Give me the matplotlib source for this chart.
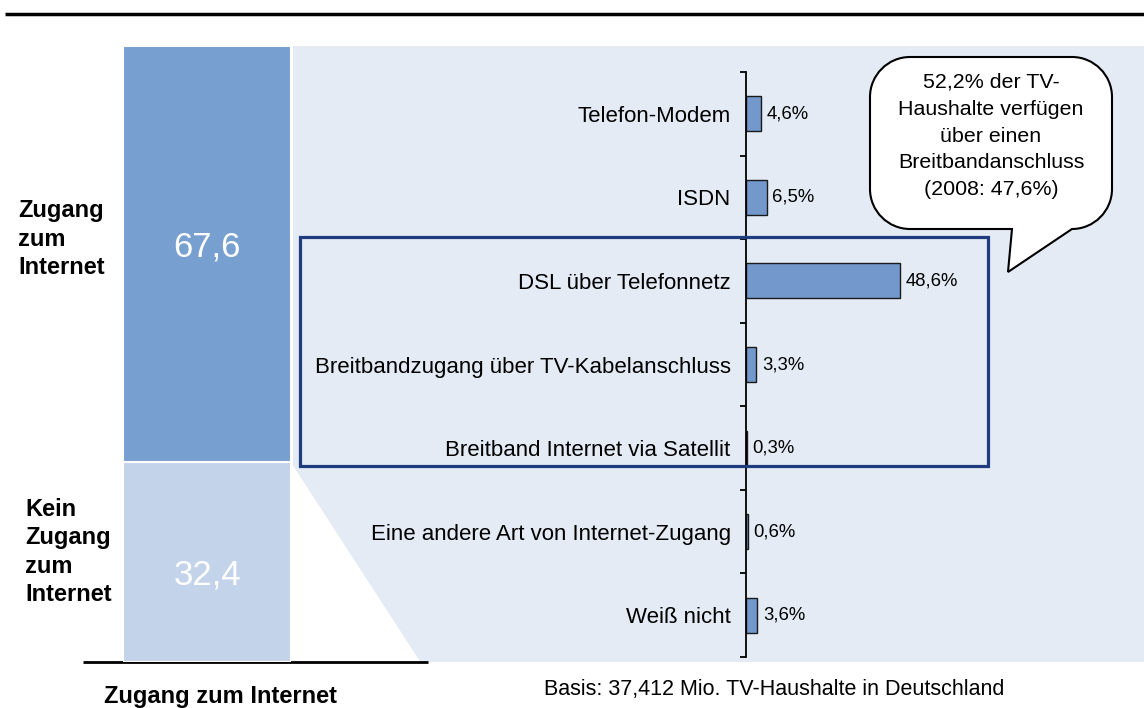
import matplotlib
matplotlib.use("Agg")
import matplotlib.pyplot as plt
from matplotlib.patches import Rectangle, Polygon, PathPatch
from matplotlib.path import Path

plt.rcParams['font.family'] = ['Liberation Sans', 'DejaVu Sans']

# ---- data ----
access_labels = ["Zugang\nzum\nInternet", "Kein\nZugang\nzum\nInternet"]
access_values = [67.6, 32.4]
access_value_text = ["67,6", "32,4"]

categories = ["Telefon-Modem", "ISDN", "DSL über Telefonnetz",
              "Breitbandzugang über TV-Kabelanschluss",
              "Breitband Internet via Satellit",
              "Eine andere Art von Internet-Zugang", "Weiß nicht"]
shares = [4.6, 6.5, 48.6, 3.3, 0.3, 0.6, 3.6]
share_labels = ["4,6%", "6,5%", "48,6%", "3,3%", "0,3%", "0,6%", "3,6%"]

callout_text = "52,2% der TV-\nHaushalte verfügen\nüber einen\nBreitbandanschluss\n(2008: 47,6%)"
bottom_left_text = "Zugang zum Internet"
basis_text = "Basis: 37,412 Mio. TV-Haushalte in Deutschland"

# ---- colours ----
dark_blue = "#779FCF"
light_blue = "#C3D3EA"
panel_bg = "#E4EBF5"
bar_color = "#7399CC"
box_color = "#1F3D7C"

W, H = 1144, 708
fig = plt.figure(figsize=(W / 100, H / 100), dpi=100)

def fig_rect(x0, y0, x1, y1):
    return [x0 / W, (H - y1) / H, (x1 - x0) / W, (y1 - y0) / H]

# background overlay (pixel coordinates)
ax0 = fig.add_axes([0, 0, 1, 1], zorder=0)
ax0.set_xlim(0, W)
ax0.set_ylim(H, 0)
ax0.axis("off")

ax0.plot([5, W], [14, 14], color="black", lw=2.5, solid_capstyle="butt")
ax0.add_patch(Rectangle((293, 46), W - 293, 662 - 46, facecolor=panel_bg, edgecolor="none"))

# left stacked bar geometry
LX0, LX1, LY0, LY1 = 123, 291, 46, 662
boundary_y = LY1 - access_values[1] / 100 * (LY1 - LY0)
ax0.add_patch(Polygon([(292, boundary_y + 2), (292, 663), (421, 663)],
                      closed=True, facecolor="white", edgecolor="none"))
ax0.plot([83, 428], [662, 662], color="black", lw=2, solid_capstyle="butt")

# ---- left stacked bar ----
axL = fig.add_axes(fig_rect(LX0, LY0, LX1, LY1), zorder=1)
axL.set_xlim(-0.5, 0.5)
axL.set_ylim(0, 100)
axL.axis("off")
axL.bar([0], [access_values[1]], width=1.0, color=light_blue,
        edgecolor="white", linewidth=1.5)
axL.bar([0], [access_values[0]], bottom=[access_values[1]], width=1.0,
        color=dark_blue, edgecolor="white", linewidth=1.5)
axL.text(0.5, 0.674, access_value_text[0], transform=axL.transAxes,
         ha="center", va="center", color="white", fontsize=25)
axL.text(0.5, 0.141, access_value_text[1], transform=axL.transAxes,
         ha="center", va="center", color="white", fontsize=25)

# ---- horizontal bars ----
axB = fig.add_axes(fig_rect(746, 72, 1144, 657), zorder=2)
axB.patch.set_alpha(0)
n = len(categories)
ypos = list(range(n))
axB.barh(ypos, shares, height=0.42, color=bar_color, edgecolor="#1a1a1a", linewidth=1.0)
axB.set_xlim(0, 125.5)
axB.set_ylim(n - 0.5, -0.5)
for s in ["top", "right", "bottom"]:
    axB.spines[s].set_visible(False)
axB.spines["left"].set_linewidth(1.3)
axB.set_xticks([])
axB.set_yticks(ypos)
axB.set_yticklabels(categories, fontsize=16)
axB.tick_params(axis="y", which="major", length=0, pad=11)
axB.set_yticks([i - 0.5 for i in range(n + 1)], minor=True)
axB.tick_params(axis="y", which="minor", length=4.5, width=1.3, direction="out")
for y, v, lab in zip(ypos, shares, share_labels):
    axB.annotate(lab, xy=(v, y), xytext=(4, 0), textcoords="offset points",
                 ha="left", va="center", fontsize=13.3)

# ---- top overlay: box, callout, texts ----
axT = fig.add_axes([0, 0, 1, 1], zorder=3)
axT.patch.set_alpha(0)
axT.set_xlim(0, W)
axT.set_ylim(H, 0)
axT.axis("off")

axT.add_patch(Rectangle((300, 237), 988 - 300, 466 - 237, facecolor="none",
                        edgecolor=box_color, linewidth=2.3))

# speech bubble
bx0, bx1, by0, by1, r = 870, 1112, 57, 229, 40
k = 0.55
verts = [
    (bx0 + r, by0),
    (bx1 - r, by0),
    (bx1 - r + k * r, by0), (bx1, by0 + r - k * r), (bx1, by0 + r),
    (bx1, by1 - r),
    (bx1, by1 - r + k * r), (bx1 - r + k * r, by1), (bx1 - r, by1),
    (1072, by1),
    (1008, 272),
    (1012, by1),
    (bx0 + r, by1),
    (bx0 + r - k * r, by1), (bx0, by1 - r + k * r), (bx0, by1 - r),
    (bx0, by0 + r),
    (bx0, by0 + r - k * r), (bx0 + r - k * r, by0), (bx0 + r, by0),
    (bx0 + r, by0),
]
codes = [Path.MOVETO, Path.LINETO,
         Path.CURVE4, Path.CURVE4, Path.CURVE4,
         Path.LINETO,
         Path.CURVE4, Path.CURVE4, Path.CURVE4,
         Path.LINETO, Path.LINETO, Path.LINETO, Path.LINETO,
         Path.CURVE4, Path.CURVE4, Path.CURVE4,
         Path.LINETO,
         Path.CURVE4, Path.CURVE4, Path.CURVE4,
         Path.CLOSEPOLY]
axT.add_patch(PathPatch(Path(verts, codes), facecolor="white", edgecolor="black", linewidth=1.5))
axT.text(991, 136, callout_text, ha="center", va="center", fontsize=15.4,
         linespacing=1.52)

axT.text(18, 239, access_labels[0], ha="left", va="center", fontsize=17,
         fontweight="bold", linespacing=1.3)
axT.text(25, 552, access_labels[1], ha="left", va="center", fontsize=17,
         fontweight="bold", linespacing=1.3)

axT.text(220, 697, bottom_left_text, ha="center", va="center", fontsize=17, fontweight="bold")
axT.text(774, 690, basis_text, ha="center", va="center", fontsize=15.5)

fig.savefig("out.png", dpi=100)
